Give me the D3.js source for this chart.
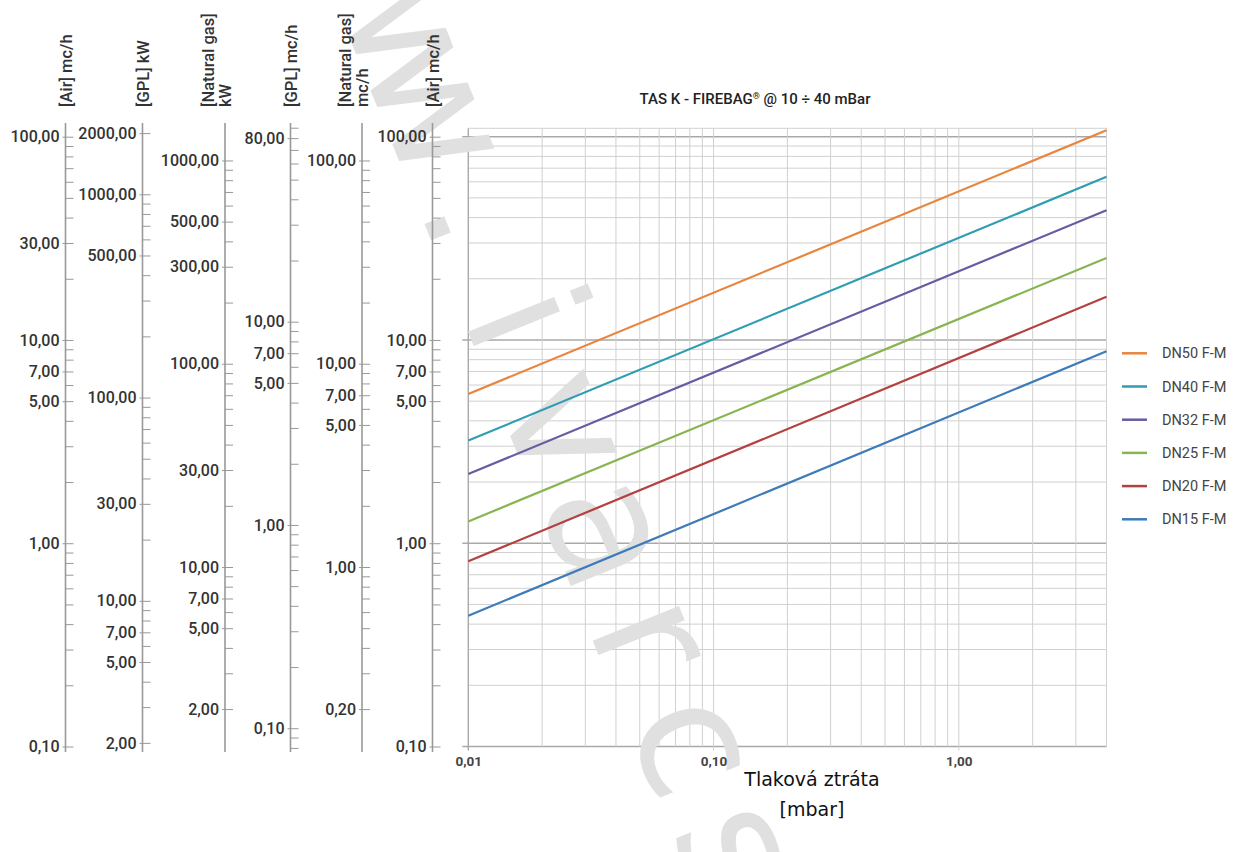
<!DOCTYPE html>
<html>
<head>
<meta charset="utf-8">
<script src="https://cdn.jsdelivr.net/npm/d3@7"></script>
<style>
  body { margin: 0; background: #fff; }
  svg { display: block; }
</style>
</head>
<body>
<div id="chart"></div>
<script>
// ---- data ----
const seriesNames = ["DN50 F-M", "DN40 F-M", "DN32 F-M", "DN25 F-M", "DN20 F-M", "DN15 F-M"];
const seriesColors = ["#e8853f", "#2f9db2", "#6b5aa2", "#88b451", "#b3413f", "#3d7bb9"];
const pressurePoints = [0.01, 4];          // mbar
const dn50 = [5.42, 107.5];                 // air mc/h at pressurePoints
const dn40 = [3.2, 63.5];
const dn32 = [2.19, 43.5];
const dn25 = [1.28, 25.3];
const dn20 = [0.815, 16.3];
const dn15 = [0.44, 8.8];
const seriesValues = [dn50, dn40, dn32, dn25, dn20, dn15];

const xTickLabels = [0.01, 0.1, 1];

// side axes: title lines, conversion factor vs air mc/h, labelled ticks
const axisTitles = [
  ["[Air] mc/h"],
  ["[GPL] kW"],
  ["[Natural gas]", "kW"],
  ["[GPL] mc/h"],
  ["[Natural gas]", "mc/h"],
  ["[Air] mc/h"]
];
const axisFactors = [1, 19.2, 13.09, 0.813, 1.309, 1];
const airTicks = [0.1, 1, 5, 7, 10, 30, 100];
const gplKwTicks = [2, 5, 7, 10, 30, 100, 500, 1000, 2000];
const ngKwTicks = [2, 5, 7, 10, 30, 100, 300, 500, 1000];
const gplMcTicks = [0.1, 1, 5, 7, 10, 80];
const ngMcTicks = [0.2, 1, 5, 7, 10, 100];
const air2Ticks = [0.1, 1, 5, 7, 10, 100];
const axisTicks = [airTicks, gplKwTicks, ngKwTicks, gplMcTicks, ngMcTicks, air2Ticks];

const watermark = "www.ivarcs.cz";

// ---- layout ----
const W = 1237, H = 852;
const plotLeft = 468.3, plotRight = 1106.5;
const yBottom = 746.5, yTop100 = 136.7;     // pixel of 0.1 and 100 air mc/h
const airMax = 110;
const axisX = [65.5, 142.5, 225, 290.5, 362, 432.5];
const axisTopPx = 123, axisBottomPx = 752;
const font = "Roboto, 'DejaVu Sans', sans-serif";

const svg = d3.select("#chart").append("svg")
  .attr("width", W).attr("height", H);

const fmt = d3.formatLocale({ decimal: ",", thousands: ".", grouping: [3], currency: ["", ""] }).format(".2f");

const x = d3.scaleLog().domain([0.01, 4]).range([plotLeft, plotRight]);
const y = d3.scaleLog().domain([0.1, 100]).range([yBottom, yTop100]);
const plotTop = y(airMax);

// all 1..9 x 10^n values between lo and hi
function logSteps(lo, hi) {
  const out = [];
  for (let e = Math.floor(Math.log10(lo)) ; e <= Math.ceil(Math.log10(hi)); e++) {
    for (let k = 1; k <= 9; k++) {
      const v = +(k * Math.pow(10, e)).toPrecision(6);
      if (v >= lo * 0.9999 && v <= hi * 1.0001) out.push(v);
    }
  }
  return out;
}
const isDecade = v => Math.abs(Math.log10(v) - Math.round(Math.log10(v))) < 1e-6;

// ---- main grid ----
const grid = svg.append("g");
grid.selectAll("line.h")
  .data(logSteps(0.1, 100))
  .join("line")
  .attr("x1", d => isDecade(d) ? plotLeft - 6 : plotLeft)
  .attr("x2", plotRight)
  .attr("y1", d => y(d)).attr("y2", d => y(d))
  .attr("stroke", d => isDecade(d) ? "#a9a9a9" : "#d0d0d0")
  .attr("stroke-width", d => isDecade(d) ? 1.4 : 1);

grid.selectAll("line.v")
  .data(logSteps(0.01, 4))
  .join("line")
  .attr("x1", d => x(d)).attr("x2", d => x(d))
  .attr("y1", plotTop)
  .attr("y2", d => isDecade(d) ? yBottom + 4 : yBottom)
  .attr("stroke", d => d === 0.01 ? "#a9a9a9" : "#d0d0d0")
  .attr("stroke-width", d => d === 0.01 ? 1.4 : 1);

// frame top/right
grid.append("line").attr("x1", plotLeft).attr("x2", plotRight)
  .attr("y1", plotTop).attr("y2", plotTop).attr("stroke", "#d0d0d0");
grid.append("line").attr("x1", plotRight).attr("x2", plotRight)
  .attr("y1", plotTop).attr("y2", yBottom).attr("stroke", "#d0d0d0");

// ---- watermark (one glyph per step along a slanted line) ----
const wmAngle = 68 * Math.PI / 180, wmStep = 115;
const wmChars = watermark.split("").map((c, k) => ({
  c,
  x: 483 + (k - 3) * wmStep * Math.cos(wmAngle),
  y: 210 + (k - 3) * wmStep * Math.sin(wmAngle)
})).filter(d => d.y > -20 && d.y < H + 20);
svg.append("g").selectAll("text")
  .data(wmChars)
  .join("text")
  .attr("transform", d => `translate(${d.x},${d.y}) rotate(68)`)
  .attr("text-anchor", "middle")
  .attr("dy", "0.35em")
  .attr("font-family", "'DejaVu Sans', sans-serif")
  .attr("font-size", 170)
  .attr("fill", "#e0e0e0")
  .text(d => d.c);

// ---- x axis ----
const xAxis = svg.append("g")
  .attr("transform", `translate(0,${yBottom})`)
  .call(d3.axisBottom(x).tickValues(xTickLabels).tickSize(0).tickPadding(10).tickFormat(fmt));
xAxis.select(".domain").remove();
xAxis.selectAll("text")
  .attr("font-family", font).attr("font-size", 13.5).attr("font-weight", 700).attr("fill", "#444");

svg.append("text")
  .attr("x", 812).attr("y", 786)
  .attr("text-anchor", "middle")
  .attr("font-family", "'DejaVu Sans', sans-serif").attr("font-size", 19).attr("fill", "#111")
  .text("Tlaková ztráta");
svg.append("text")
  .attr("x", 812).attr("y", 816)
  .attr("text-anchor", "middle")
  .attr("font-family", "'DejaVu Sans', sans-serif").attr("font-size", 19).attr("fill", "#111")
  .text("[mbar]");

// ---- side axes ----
axisFactors.forEach((f, i) => {
  const s = d3.scaleLog().domain([0.1 * f, 100 * f]).range([yBottom, yTop100]);
  const g = svg.append("g").attr("transform", `translate(${axisX[i]},0)`);

  g.append("line")
    .attr("y1", axisTopPx).attr("y2", axisBottomPx)
    .attr("stroke", "#999").attr("stroke-width", 1.6);

  const minor = logSteps(s.invert(axisBottomPx), s.invert(axisTopPx));
  const gm = g.append("g")
    .call(d3.axisRight(s).tickValues(minor).tickSize(8).tickFormat(""));
  gm.select(".domain").remove();
  gm.selectAll("line").attr("stroke", "#999");

  const gl = g.append("g")
    .call(d3.axisLeft(s).tickValues(axisTicks[i]).tickSize(3).tickPadding(3).tickFormat(fmt));
  gl.select(".domain").remove();
  gl.selectAll("line").attr("stroke", "#999");
  gl.selectAll("text")
    .attr("font-family", font).attr("font-size", 16).attr("font-weight", 500).attr("fill", "#333");

  const lines = axisTitles[i];
  lines.forEach((t, j) => {
    const off = (j - (lines.length - 1)) * 17;
    g.append("text")
      .attr("transform", `translate(${off + 6},107) rotate(-90)`)
      .attr("font-family", font).attr("font-size", 16.5).attr("font-weight", 500).attr("fill", "#333")
      .text(t);
  });
});

// ---- series ----
const line = d3.line().x(d => x(d[0])).y(d => y(d[1]));
svg.append("g").selectAll("path")
  .data(seriesValues)
  .join("path")
  .attr("d", vals => line(pressurePoints.map((p, k) => [p, vals[k]])))
  .attr("fill", "none")
  .attr("stroke", (d, i) => seriesColors[i])
  .attr("stroke-width", 2.2);

// ---- title ----
const title = svg.append("text")
  .attr("x", 755).attr("y", 104)
  .attr("text-anchor", "middle")
  .attr("font-family", font).attr("font-size", 15).attr("font-weight", 500).attr("fill", "#222");
title.append("tspan").text("TAS K - FIREBAG");
title.append("tspan").attr("font-size", 9).attr("dy", -5).text("®");
title.append("tspan").attr("dy", 5).text(" @ 10 ÷ 40 mBar");

// ---- legend ----
const legend = svg.append("g").selectAll("g")
  .data(seriesNames)
  .join("g")
  .attr("transform", (d, i) => `translate(1122,${353.3 + i * 33.2})`);
legend.append("line")
  .attr("x1", 0).attr("x2", 25)
  .attr("stroke", (d, i) => seriesColors[i]).attr("stroke-width", 2.5);
legend.append("text")
  .attr("x", 40).attr("dy", "0.35em")
  .attr("font-family", font).attr("font-size", 14.5).attr("fill", "#444")
  .text(d => d);
</script>
</body>
</html>
